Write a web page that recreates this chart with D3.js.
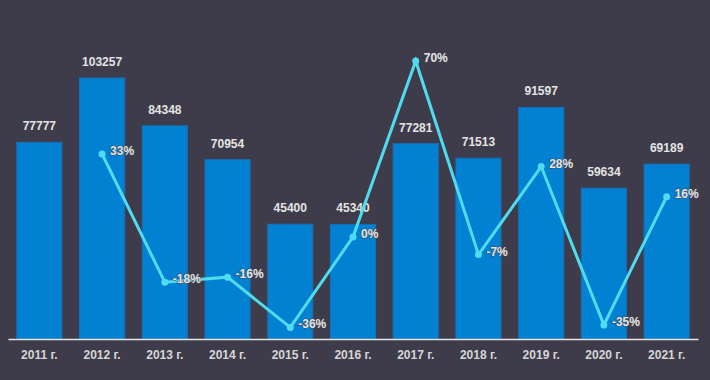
<!DOCTYPE html>
<html>
<head>
<meta charset="utf-8">
<script src="https://cdn.jsdelivr.net/npm/d3@7"></script>
<style>
    body { margin: 0; background: #3e3c4b; }
    text { font-family: "Liberation Sans", Arial, sans-serif; }
</style>
</head>
<body>
<div id="main_div"></div>
<script>
/** chart data **/
const years = ["2011 г.", "2012 г.", "2013 г.", "2014 г.", "2015 г.", "2016 г.", "2017 г.", "2018 г.", "2019 г.", "2020 г.", "2021 г."];
const counts = [77777, 103257, 84348, 70954, 45400, 45340, 77281, 71513, 91597, 59634, 69189];
const changes = [null, 33, -18, -16, -36, 0, 70, -7, 28, -35, 16];

let size = [710, 380];
const base = 339;

let svg = d3.select("#main_div")
    .append("svg")
    .attr("width", size[0])
    .attr("height", size[1])
    .style("display", "block");

svg.append("rect")
    .attr("width", size[0])
    .attr("height", size[1])
    .attr("fill", "#3e3c4b");

let xScale = d3.scaleBand()
    .domain(years)
    .range([8, 698])
    .paddingInner(0.28)
    .paddingOuter(0.14);

let yScale = d3.scaleLinear()
    .domain([0, 103257])
    .range([base, 78]);

let pScale = d3.scaleLinear()
    .domain([-40.6, 70])
    .range([base, 61]);

/** bars **/
svg.append("g")
    .selectAll("rect")
    .data(counts)
    .enter()
    .append("rect")
    .attr("x", (d, i) => xScale(years[i]))
    .attr("y", d => yScale(d))
    .attr("width", xScale.bandwidth())
    .attr("height", d => base - yScale(d))
    .attr("fill", "#0280d1")
    .attr("stroke", "#1570b5")
    .attr("stroke-width", 1);

/** bar labels **/
svg.append("g")
    .selectAll("text")
    .data(counts)
    .enter()
    .append("text")
    .attr("x", (d, i) => xScale(years[i]) + xScale.bandwidth() / 2)
    .attr("y", d => yScale(d) - 12)
    .attr("text-anchor", "middle")
    .attr("fill", "#e4e4e4")
    .style("font-size", "12px")
    .style("font-weight", "bold")
    .text(d => d);

/** x axis **/
let xAxis = d3.axisBottom(xScale).tickSize(0).tickPadding(11);
let xg = svg.append("g")
    .attr("transform", "translate(0," + base + ")")
    .call(xAxis);
xg.select(".domain").attr("stroke", "#e6e6e6").attr("stroke-width", 1.5);
xg.selectAll("text")
    .attr("fill", "#d6d6d6")
    .style("font-size", "12px")
    .style("font-weight", "bold")
    .style("font-family", "'Liberation Sans', Arial, sans-serif");

/** line of changes **/
let pts = changes
    .map((v, i) => ({ year: years[i], v: v }))
    .filter(d => d.v !== null);

let cx = d => xScale(d.year) + xScale.bandwidth() / 2;

svg.append("path")
    .datum(pts)
    .attr("fill", "none")
    .attr("stroke", "#4fdcf0")
    .attr("stroke-width", 3)
    .attr("d", d3.line().x(cx).y(d => pScale(d.v)));

svg.append("g")
    .selectAll("circle")
    .data(pts)
    .enter()
    .append("circle")
    .attr("cx", cx)
    .attr("cy", d => pScale(d.v))
    .attr("r", 3.5)
    .attr("fill", "#4fdcf0");

svg.append("g")
    .selectAll("text")
    .data(pts)
    .enter()
    .append("text")
    .attr("x", d => cx(d) + 8)
    .attr("y", d => pScale(d.v) + 1)
    .attr("fill", "#e4e4e4")
    .style("font-size", "12px")
    .style("font-weight", "bold")
    .style("paint-order", "stroke")
    .attr("stroke", "#4a4a58")
    .attr("stroke-width", 1)
    .text(d => d.v + "%");
</script>
</body>
</html>
